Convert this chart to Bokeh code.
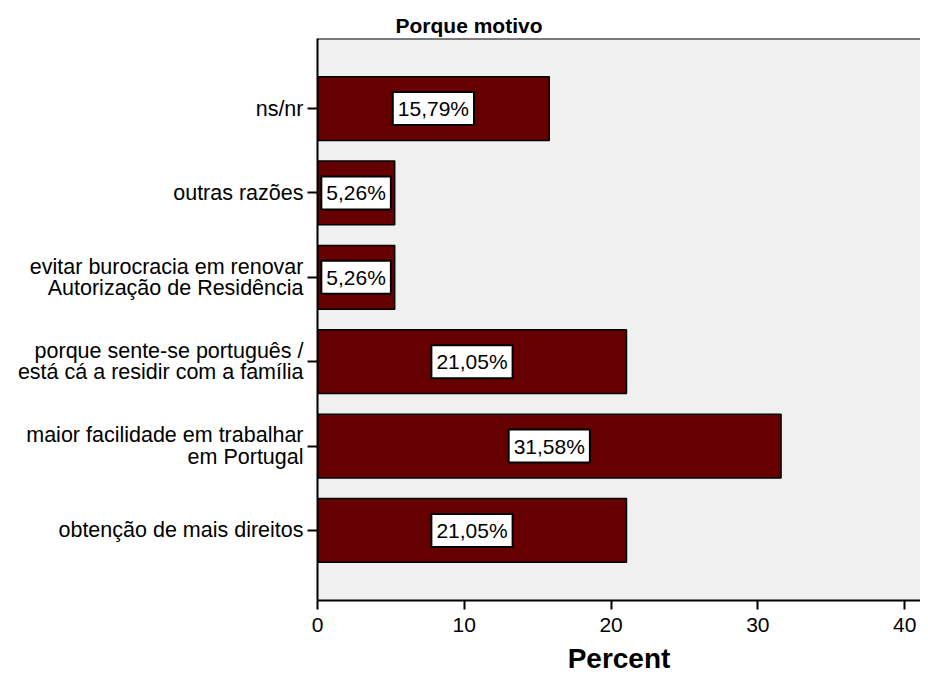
from bokeh.plotting import figure
from bokeh.models import FixedTicker, Span, Label, Range1d, Title
from bokeh.embed import file_html
from bokeh.resources import INLINE

categories = [
    "obtenção de mais direitos",
    "maior facilidade em trabalhar\nem Portugal",
    "porque sente-se português /\nestá cá a residir com a família",
    "evitar burocracia em renovar\nAutorização de Residência",
    "outras razões",
    "ns/nr",
]
values = [21.05, 31.58, 21.05, 5.26, 5.26, 15.79]
x_ticks = [0, 10, 20, 30, 40]

positions = list(range(1, len(categories) + 1))
FONT = "Liberation Sans"
Y0, Y1 = 0.17, 6.83

p = figure(width=920, height=676, output_backend="svg", toolbar_location=None,
           x_range=Range1d(0, 41.08), y_range=Range1d(Y0, Y1),
           min_border_left=317, min_border_right=0, min_border_top=38,
           min_border_bottom=74)
p.background_fill_color = "#f0f0f0"
p.border_fill_color = "white"
p.outline_line_color = None
p.grid.visible = False

p.title = Title(text="Porque motivo", align="left", offset=78,
                text_font=FONT, text_font_size="21px", text_font_style="bold",
                text_color="black", standoff=3)

p.hbar(y=positions, right=values, left=0, height=0.756,
       fill_color="#660000", line_color="black", line_width=1.5)

for v, yy in zip(values, positions):
    p.add_layout(Label(x=v / 2, y=yy, text=f"{v:.2f}%".replace(".", ","),
                       text_align="center", text_baseline="middle",
                       text_font=FONT, text_font_size="21px", text_color="black",
                       background_fill_color="white", border_line_color="black",
                       border_line_width=2, padding=5))

p.add_layout(Span(location=Y1, dimension="width", line_color="black", line_width=2))

xa = p.xaxis[0]
xa.ticker = FixedTicker(ticks=x_ticks)
xa.minor_tick_line_color = None
xa.major_tick_in = 0
xa.major_tick_out = 9
xa.axis_line_width = 2
xa.major_tick_line_width = 2
xa.major_label_text_font = FONT
xa.major_label_text_font_size = "21px"
xa.major_label_text_line_height = 0.9
xa.major_label_text_color = "black"
xa.major_label_standoff = 8
xa.axis_label = "Percent"
xa.axis_label_text_font = FONT
xa.axis_label_text_font_size = "28px"
xa.axis_label_text_font_style = "bold"
xa.axis_label_text_line_height = 0.9
xa.axis_label_text_color = "black"
xa.axis_label_standoff = 8

ya = p.yaxis[0]
ya.ticker = FixedTicker(ticks=positions)
ya.major_label_overrides = {pos: c for pos, c in zip(positions, categories)}
ya.minor_tick_line_color = None
ya.major_tick_in = 0
ya.major_tick_out = 10
ya.axis_line_width = 2
ya.major_tick_line_width = 2
ya.major_label_text_font = FONT
ya.major_label_text_font_size = "21.5px"
ya.major_label_text_line_height = 0.9
ya.major_label_text_color = "black"
ya.major_label_standoff = 4

open("out.html", "w").write(file_html(p, INLINE))
